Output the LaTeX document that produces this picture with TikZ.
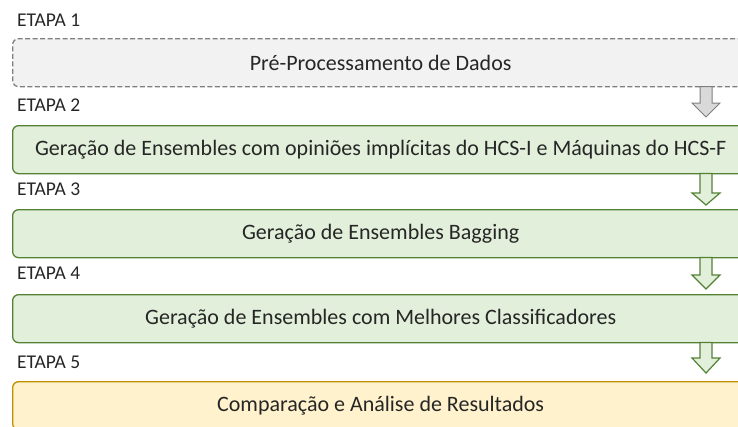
\documentclass[tikz,border=0pt]{standalone}
\usepackage{fontspec}
\setmainfont{Carlito}
\definecolor{grayfill}{HTML}{F2F2F2}
\definecolor{grayline}{HTML}{7F7F7F}
\definecolor{arrgray}{HTML}{D9D9D9}
\definecolor{greenfill}{HTML}{E2EFDA}
\definecolor{greenline}{HTML}{548235}
\definecolor{yellowfill}{HTML}{FFF2CC}
\definecolor{yellowline}{HTML}{BF9000}
\definecolor{txt}{HTML}{262626}
\begin{document}
\begin{tikzpicture}[x=1pt,y=-1pt,
  stagebox/.style={rounded corners=6pt,line width=1.3pt,minimum width=736pt,minimum height=48pt,inner sep=0pt,anchor=north west,font=\fontsize{22}{26}\selectfont,text=txt},
  graybox/.style={stagebox,draw=grayline,fill=grayfill,dash pattern=on 5pt off 2.5pt},
  greenbox/.style={stagebox,draw=greenline,fill=greenfill},
  yellowbox/.style={stagebox,draw=yellowline,fill=yellowfill},
  etapa/.style={anchor=west,inner sep=0pt,font=\fontsize{19.5}{22}\selectfont,text=txt},
  arrgrayst/.style={draw=grayline,fill=arrgray,line width=1pt,line join=miter},
  arrgreenst/.style={draw=greenline,fill=greenfill,line width=1.2pt,line join=miter}
]
\useasboundingbox (0,0) rectangle (738,426);
\clip (0,0) rectangle (738,426);
\node[etapa] (e1) at (17,20) {ETAPA 1};
\node[graybox] (b1) at (12,38) {Pré-Processamento de Dados};
\node[etapa] (e2) at (17,105) {ETAPA 2};
\node[greenbox] (b2) at (12,125) {Geração de Ensembles com opiniões implícitas do HCS-I e Máquinas do HCS-F};
\node[etapa] (e3) at (17,189) {ETAPA 3};
\node[greenbox] (b3) at (12,209) {Geração de Ensembles Bagging};
\node[etapa] (e4) at (17,273) {ETAPA 4};
\node[greenbox] (b4) at (12,294) {Geração de Ensembles com Melhores Classificadores};
\node[etapa] (e5) at (17,362) {ETAPA 5};
\node[yellowbox] (b5) at (12,381) {Comparação e Análise de Resultados};
% arrows
\newcommand{\downarrowshape}[4]{% style, top y, head y, tip y
  \draw[#1] (700,#2) -- (712,#2) -- (712,#3) -- (720,#3) -- (706,#4) -- (692,#3) -- (700,#3) -- cycle;}
\downarrowshape{arrgrayst}{86.5}{103}{117}
\downarrowshape{arrgreenst}{173.5}{193}{205}
\downarrowshape{arrgreenst}{257.5}{275}{289}
\downarrowshape{arrgreenst}{342.5}{358}{373}
\end{tikzpicture}
\end{document}
